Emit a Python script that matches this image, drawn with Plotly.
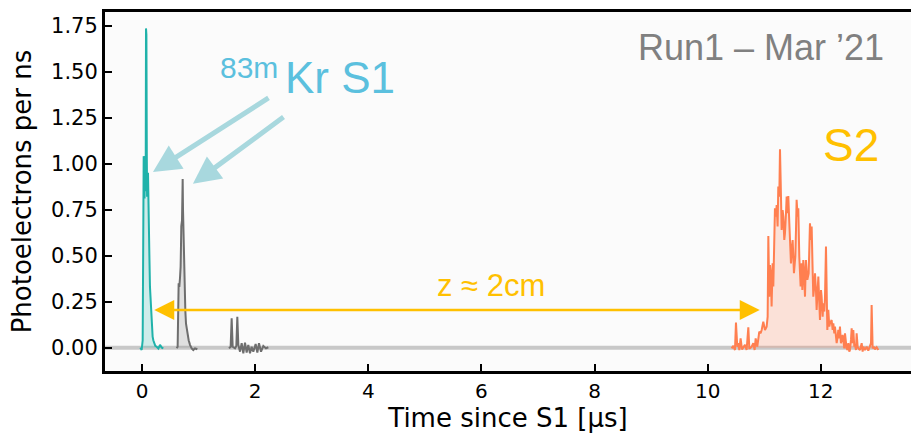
import plotly.graph_objects as go

# ---- data ----
s1_t = [-0.03, -0.006, 0.012, 0.024, 0.03, 0.035, 0.04, 0.045, 0.05, 0.055, 0.06, 0.065,
        0.071, 0.078, 0.085, 0.09, 0.095, 0.1, 0.106, 0.112, 0.12, 0.13, 0.141, 0.15, 0.159,
        0.168, 0.177, 0.188, 0.2, 0.212, 0.235, 0.259, 0.29, 0.318, 0.35, 0.377]
s1_pe = [0.0, -0.013, 0.04, 0.80, 1.04, 0.82, 1.03, 0.81, 1.04, 0.83, 1.02, 0.85,
         1.735, 1.70, 1.05, 0.82, 1.03, 0.85, 0.95, 0.77, 0.62, 0.51, 0.33, 0.27, 0.22,
         0.18, 0.15, 0.06, 0.04, 0.024, 0.01, 0.005, -0.005, 0.015, 0.0, -0.004]

g1_t = [0.613, 0.63, 0.648, 0.66, 0.672, 0.683, 0.695, 0.707, 0.713, 0.719, 0.725, 0.73,
        0.742, 0.754, 0.766, 0.778, 0.79, 0.801, 0.825, 0.849, 0.878, 0.907, 0.937, 0.978]
g1_pe = [-0.004, 0.005, 0.35, 0.33, 0.38, 0.44, 0.66, 0.69, 0.80, 0.917, 0.75, 0.66,
         0.44, 0.26, 0.20, 0.13, 0.10, 0.078, 0.04, 0.015, -0.004, -0.013, -0.004, -0.009]

g2_t = [1.538, 1.567, 1.585, 1.603, 1.644, 1.668, 1.685, 1.703, 1.733, 1.762, 1.791, 1.821,
        1.85, 1.879, 1.909, 1.938, 1.968, 2.009, 2.039, 2.068, 2.104, 2.145, 2.192, 2.233]
g2_pe = [-0.004, 0.005, 0.16, 0.005, -0.004, 0.009, 0.168, 0.015, -0.022, 0.024, -0.031, 0.027,
         -0.027, 0.015, -0.031, 0.005, -0.022, 0.02, -0.027, 0.024, -0.022, 0.009, -0.004, 0.002]

s2_t = [10.423, 10.453, 10.482, 10.5, 10.523, 10.541, 10.559, 10.582, 10.606, 10.63, 10.659,
        10.688, 10.718, 10.736, 10.747, 10.777, 10.806, 10.83, 10.848, 10.877, 10.895, 10.912,
        10.936, 10.954, 10.983, 11.013, 11.042, 11.06, 11.072, 11.083, 11.089, 11.101, 11.119,
        11.13, 11.148, 11.16, 11.178, 11.189, 11.207, 11.219, 11.236, 11.248, 11.266, 11.278,
        11.29, 11.295, 11.307, 11.325, 11.337, 11.354, 11.366, 11.384, 11.396, 11.413, 11.425,
        11.443, 11.455, 11.472, 11.49, 11.502, 11.525, 11.549, 11.561, 11.572, 11.59, 11.602,
        11.619, 11.631, 11.643, 11.661, 11.673, 11.69, 11.702, 11.72, 11.737, 11.749, 11.761,
        11.785, 11.796, 11.808, 11.826, 11.838, 11.855, 11.867, 11.885, 11.897, 11.914, 11.926,
        11.944, 11.956, 11.973, 11.985, 12.003, 12.014, 12.032, 12.044, 12.061, 12.073, 12.091,
        12.103, 12.115, 12.132, 12.15, 12.162, 12.191, 12.209, 12.221, 12.238, 12.25, 12.268,
        12.28, 12.297, 12.309, 12.327, 12.338, 12.356, 12.368, 12.386, 12.397, 12.415, 12.427,
        12.445, 12.456, 12.474, 12.486, 12.503, 12.515, 12.533, 12.545, 12.562, 12.574, 12.592,
        12.604, 12.621, 12.633, 12.651, 12.663, 12.692, 12.71, 12.722, 12.739, 12.751, 12.78,
        12.81, 12.839, 12.869, 12.887, 12.898, 12.91, 12.916, 12.94, 12.957, 12.987, 13.016]
s2_pe = [-0.004, 0.01, -0.013, 0.136, 0.005, 0.024, -0.013, 0.05, -0.01, 0.005, 0.015,
         -0.013, 0.11, -0.004, -0.004, 0.005, 0.024, -0.013, 0.05, 0.005, 0.07, 0.087,
         0.078, 0.096, 0.141, 0.096, 0.114, 0.168, 0.607, 0.42, 0.277, 0.449, 0.386,
         0.223, 0.458, 0.332, 0.603, 0.757, 0.712, 0.775, 0.658, 0.875, 0.821, 1.078,
         0.911, 0.784, 0.639, 0.748, 0.712, 0.585, 0.621, 0.73, 0.821, 0.73, 0.824,
         0.676, 0.585, 0.458, 0.549, 0.585, 0.404, 0.495, 0.639, 0.803, 0.712, 0.757,
         0.495, 0.386, 0.332, 0.458, 0.313, 0.476, 0.422, 0.277, 0.476, 0.422, 0.368,
         0.404, 0.549, 0.676, 0.585, 0.658, 0.422, 0.277, 0.332, 0.404, 0.313, 0.205,
         0.313, 0.386, 0.241, 0.15, 0.313, 0.277, 0.168, 0.241, 0.196, 0.268, 0.549,
         0.313, 0.096, 0.205, 0.114, 0.132, 0.15, 0.096, 0.132, 0.078, 0.114, 0.06,
         0.024, 0.06, 0.096, 0.05, 0.114, 0.024, 0.042, 0.069, 0.042, -0.004, 0.078,
         0.024, -0.004, -0.013, 0.024, -0.022, -0.013, 0.042, 0.105, 0.024, 0.096, 0.005,
         0.015, -0.013, 0.078, 0.005, -0.004, -0.013, 0.015, 0.024, -0.022, 0.005, -0.013,
         0.005, -0.016, 0.015, 0.024, 0.232, 0.024, -0.004, 0.005, -0.01, 0.002, -0.013]

x_ticks = [0, 2, 4, 6, 8, 10, 12]
y_ticks = [0.0, 0.25, 0.5, 0.75, 1.0, 1.25, 1.5, 1.75]

TEAL = "#20B2AA"
GRAY = "#6E6E6E"
CORAL = "#FF7F50"
GOLD = "#FFC000"
KRBLUE = "#5BC0DE"
ARROWBLUE = "#A8D8DE"

fig = go.Figure()

fig.add_trace(go.Scatter(x=s1_t, y=s1_pe, mode="lines", line=dict(color=TEAL, width=2),
                         fill="tozeroy", fillcolor="rgba(32,178,170,0.2)", hoverinfo="skip"))
fig.add_trace(go.Scatter(x=g1_t, y=g1_pe, mode="lines", line=dict(color=GRAY, width=2),
                         fill="tozeroy", fillcolor="rgba(128,128,128,0.22)", hoverinfo="skip"))
fig.add_trace(go.Scatter(x=g2_t, y=g2_pe, mode="lines", line=dict(color=GRAY, width=2),
                         hoverinfo="skip"))
fig.add_trace(go.Scatter(x=s2_t, y=s2_pe, mode="lines", line=dict(color=CORAL, width=2),
                         fill="tozeroy", fillcolor="rgba(255,127,80,0.2)", hoverinfo="skip"))

# baseline
fig.add_shape(type="line", xref="paper", yref="y", x0=0, x1=1, y0=0, y1=0,
              line=dict(color="#C8C8C8", width=4), layer="below")

LIB = "Liberation Sans, Arial, sans-serif"
ann = []
ann.append(dict(x=13.15, y=1.63, xref="x", yref="y", text="Run1 – Mar ’21", showarrow=False,
                xanchor="right", yanchor="middle", font=dict(family=LIB, size=36, color="#808080")))
ann.append(dict(x=2.49, y=1.47, xref="x", yref="y", text="Kr S1", showarrow=False,
                xanchor="left", yanchor="middle", font=dict(family=LIB, size=44, color=KRBLUE)))
ann.append(dict(x=1.34, y=1.525, xref="x", yref="y", text="83m", showarrow=False,
                xanchor="left", yanchor="middle", font=dict(family=LIB, size=30, color=KRBLUE)))
ann.append(dict(x=12.53, y=1.10, xref="x", yref="y", text="S2", showarrow=False,
                xanchor="center", yanchor="middle", font=dict(family=LIB, size=46, color=GOLD)))
ann.append(dict(x=6.17, y=0.34, xref="x", yref="y", text="z ≈ 2cm", showarrow=False,
                xanchor="center", yanchor="middle", font=dict(family=LIB, size=31, color=GOLD)))
# arrows to S1 peaks
ann.append(dict(x=0.194, y=0.955, ax=2.263, ay=1.362, xref="x", yref="y", axref="x", ayref="y",
                text="", showarrow=True, arrowhead=2, arrowsize=1.1, arrowwidth=5,
                arrowcolor=ARROWBLUE, standoff=0))
ann.append(dict(x=0.90, y=0.89, ax=2.528, ay=1.259, xref="x", yref="y", axref="x", ayref="y",
                text="", showarrow=True, arrowhead=2, arrowsize=1.1, arrowwidth=5,
                arrowcolor=ARROWBLUE, standoff=0))
# drift distance arrow
ann.append(dict(x=10.92, y=0.205, ax=0.19, ay=0.205, xref="x", yref="y", axref="x", ayref="y",
                text="", showarrow=True, arrowhead=2, startarrowhead=2, arrowside="end+start",
                arrowsize=1.6, startarrowsize=1.6, arrowwidth=2.5, arrowcolor=GOLD,
                standoff=0, startstandoff=0))

DV = "DejaVu Sans, sans-serif"
fig.update_layout(
    width=911, height=433,
    margin=dict(l=105, r=0, t=12, b=62),
    paper_bgcolor="white", plot_bgcolor="#FBFBFB",
    showlegend=False,
    annotations=ann,
    font=dict(family=DV, color="black"),
    xaxis=dict(range=[-0.654, 13.594], tickvals=x_ticks, ticks="inside", ticklen=7, tickwidth=2,
               tickcolor="black", showline=True, linecolor="black", linewidth=3, mirror=True,
               showgrid=False, zeroline=False, tickfont=dict(family=DV, size=20),
               title=dict(text="Time since S1 [μs]", font=dict(family=DV, size=26), standoff=8)),
    yaxis=dict(range=[-0.127, 1.824], tickvals=y_ticks, tickformat=".2f", ticks="inside",
               ticklen=7, tickwidth=2, tickcolor="black", showline=True, linecolor="black",
               linewidth=3, mirror=False, showgrid=False, zeroline=False,
               tickfont=dict(family=DV, size=21),
               title=dict(text="Photoelectrons per ns", font=dict(family=DV, size=26), standoff=12)),
)

fig.write_html("out.html")
